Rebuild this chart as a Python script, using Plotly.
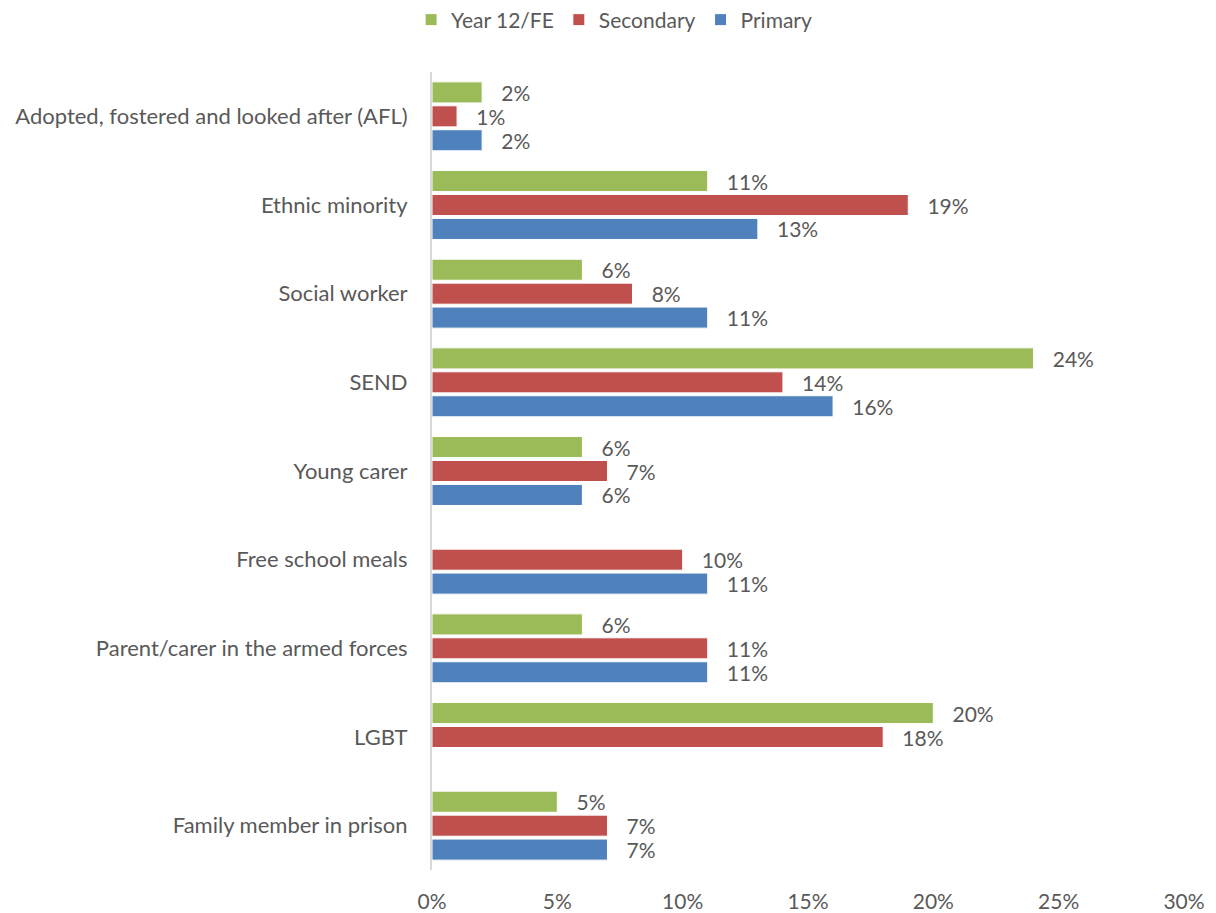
import plotly.graph_objects as go

categories = [
    "Adopted, fostered and looked after (AFL)",
    "Ethnic minority",
    "Social worker",
    "SEND",
    "Young carer",
    "Free school meals",
    "Parent/carer in the armed forces",
    "LGBT",
    "Family member in prison",
]
year12_fe = [2, 11, 6, 24, 6, None, 6, 20, 5]
secondary = [1, 19, 8, 14, 7, 10, 11, 18, 7]
primary = [2, 13, 11, 16, 6, 11, 11, None, 7]

series_names = ["Year 12/FE", "Secondary", "Primary"]
series_values = [year12_fe, secondary, primary]
colors = ["#9BBB59", "#C0504D", "#4F81BD"]

tick_vals = [0, 5, 10, 15, 20, 25, 30]
tick_text = ["0%", "5%", "10%", "15%", "20%", "25%", "30%"]

FONT = "Lato"
TXT = "#595959"
FS = 21

fig = go.Figure()
for name, vals, col in zip(series_names, series_values, colors):
    fig.add_trace(go.Bar(
        name=name,
        y=categories,
        x=vals,
        orientation="h",
        marker=dict(color=col, line=dict(color="white", width=1)),
        text=[("   %d%%" % v) if v is not None else "" for v in vals],
        textposition="outside",
        constraintext="none",
        cliponaxis=False,
        textfont=dict(family=FONT, size=FS, color=TXT),
        hoverinfo="x+y",
    ))

fig.update_layout(
    width=1216, height=913,
    barmode="group",
    bargap=0.19,
    bargroupgap=0.12,
    paper_bgcolor="white",
    plot_bgcolor="white",
    margin=dict(l=432, r=32, t=72, b=43, autoexpand=False),
    font=dict(family=FONT, size=FS, color=TXT),
    legend=dict(
        orientation="h",
        x=0.505, xref="container", xanchor="center",
        y=1 - 20 / 913, yref="container", yanchor="middle",
        font=dict(family=FONT, size=FS, color=TXT),
        traceorder="normal",
    ),
    xaxis=dict(
        range=[0, 30],
        tickvals=tick_vals,
        ticktext=tick_text,
        showgrid=False,
        zeroline=False,
        showline=False,
        ticks="outside",
        ticklen=13,
        tickcolor="rgba(0,0,0,0)",
        tickfont=dict(family=FONT, size=FS, color=TXT),
        automargin=False,
        fixedrange=True,
    ),
    yaxis=dict(
        autorange="reversed",
        showgrid=False,
        showline=True,
        linecolor="#D9D9D9",
        linewidth=2,
        ticks="outside",
        ticklen=18,
        tickcolor="rgba(0,0,0,0)",
        tickfont=dict(family=FONT, size=22, color=TXT),
        automargin=False,
    ),
)

fig.write_html(
    "out.html",
    config={"displayModeBar": False},
    post_script="document.body.style.margin='0';document.body.style.overflow='hidden';",
)
